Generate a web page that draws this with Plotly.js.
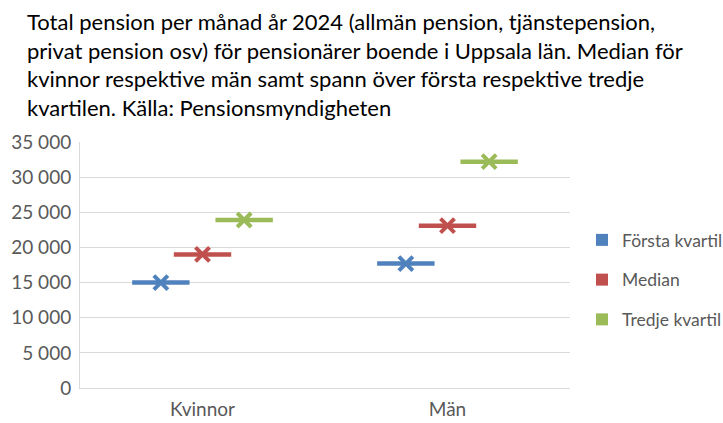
<!DOCTYPE html>
<html>
<head>
<meta charset="utf-8">
<script src="https://cdn.plot.ly/plotly-3.0.1.min.js"></script>
<style>html,body{margin:0;padding:0;background:#fff;}#chart{width:723px;height:423px;}</style>
</head>
<body>
<div id="chart"></div>
<script>
const categories = ["Kvinnor", "Män"];
const seriesNames = ["Första kvartil", "Median", "Tredje kvartil"];
const forstaKvartil = [15000, 17700];
const median = [19000, 23100];
const tredjeKvartil = [23900, 32200];
const yTickVals = [0, 5000, 10000, 15000, 20000, 25000, 30000, 35000];

const seriesValues = [forstaKvartil, median, tredjeKvartil];
const colors = ["#4F81BD", "#C0504D", "#9BBB59"];

const traces = [];
seriesValues.forEach((vals, i) => {
  traces.push({
    type: "scatter", mode: "markers", x: categories, y: vals,
    name: seriesNames[i], offsetgroup: "g" + i, legendgroup: "g" + i, showlegend: false,
    marker: {symbol: "line-ew", size: 41, color: colors[i], line: {color: colors[i], width: 4.5}},
    hoverinfo: "y"
  });
  traces.push({
    type: "scatter", mode: "markers", x: categories, y: vals,
    name: seriesNames[i], offsetgroup: "g" + i, legendgroup: "g" + i, showlegend: false,
    marker: {symbol: "x-thin", size: 14, color: colors[i], line: {color: colors[i], width: 4}},
    hoverinfo: "skip"
  });
  traces.push({
    type: "scatter", mode: "markers", x: categories, y: [null, null],
    name: seriesNames[i], offsetgroup: "g" + i, legendgroup: "g" + i, showlegend: true,
    marker: {symbol: "square", size: 12, color: colors[i]}
  });
});

const layout = {
  width: 723, height: 423,
  paper_bgcolor: "#fff", plot_bgcolor: "#fff",
  margin: {l: 80, r: 153, t: 142, b: 35},
  separators: ", ",
  scattermode: "group",
  scattergap: 0.49,
  title: {
    text: "Total pension per månad år 2024 (allmän pension, tjänstepension,<br>privat pension osv) för pensionärer boende i Uppsala län. Median för<br>kvinnor respektive män samt spann över första respektive tredje<br>kvartilen. Källa: Pensionsmyndigheten",
    xref: "container", yref: "container",
    x: 27 / 723, xanchor: "left",
    y: 1 - 30 / 423, yanchor: "top",
    font: {family: "Lato, 'Open Sans', sans-serif", size: 22, color: "#000"}
  },
  showlegend: true,
  legend: {
    xref: "container", yref: "container",
    x: 582 / 723, xanchor: "left", y: 1 - 280 / 423, yanchor: "middle",
    font: {family: "Lato, sans-serif", size: 17.5, color: "#595959"},
    tracegroupgap: 14, itemsizing: "constant", itemwidth: 30
  },
  xaxis: {
    type: "category",
    showgrid: false, zeroline: false,
    showline: true, linecolor: "#d9d9d9", linewidth: 1,
    ticks: "", ticklabelstandoff: 4,
    tickfont: {family: "Lato, sans-serif", size: 19, color: "#595959"},
    fixedrange: true
  },
  yaxis: {
    range: [0, 35000], tickvals: yTickVals, tickformat: ",d",
    showgrid: true, gridcolor: "#d9d9d9", gridwidth: 1,
    zeroline: false, showline: true, linecolor: "#d9d9d9", linewidth: 1,
    ticks: "", ticklen: 0, ticklabelstandoff: 4,
    tickfont: {family: "Lato, sans-serif", size: 19, color: "#595959"},
    fixedrange: true
  }
};

Plotly.newPlot("chart", traces, layout, {displayModeBar: false, staticPlot: true});
</script>
</body>
</html>
